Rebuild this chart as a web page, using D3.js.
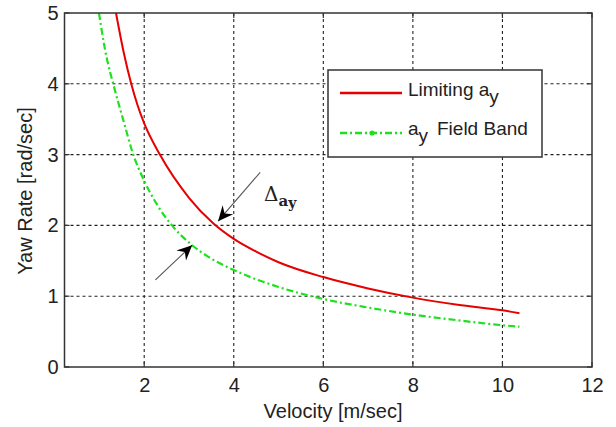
<!DOCTYPE html>
<html>
<head>
<meta charset="utf-8">
<script src="https://cdn.jsdelivr.net/npm/d3@7"></script>
<style>
  body { margin: 0; background: #fff; }
  svg { display: block; }
  text { font-family: "Liberation Sans", Arial, sans-serif; fill: #222; }
</style>
</head>
<body>
<svg id="chart" width="616" height="427"></svg>
<script>
// ticks
const xTicks = [2, 4, 6, 8, 10, 12];
const yTicks = [0, 1, 2, 3, 4, 5];

// Limiting a_y curve (velocity m/sec, yaw rate rad/sec)
const limitVel = [1.37, 1.55, 1.71, 1.85, 2.0, 2.35, 3.0, 3.54, 4.0, 4.5, 5.0, 6.0, 7.0, 8.0, 9.0, 10.0, 10.38];
const limitYaw = [5.0, 4.42, 4.0, 3.7, 3.44, 3.0, 2.39, 2.03, 1.81, 1.63, 1.48, 1.27, 1.11, 0.98, 0.88, 0.80, 0.76];

// a_y field band curve
const bandVel = [0.99, 1.12, 1.35, 1.55, 1.74, 2.0, 2.3, 2.62, 3.07, 3.5, 4.0, 5.0, 6.0, 7.0, 8.0, 9.0, 10.0, 10.38];
const bandYaw = [5.0, 4.5, 3.9, 3.45, 3.03, 2.63, 2.28, 2.0, 1.72, 1.53, 1.37, 1.13, 0.96, 0.84, 0.74, 0.66, 0.59, 0.57];

// annotation arrows [tail, tip] in data units
const arrowTails = [[4.59, 2.75], [2.25, 1.23]];
const arrowTips = [[3.65, 2.06], [3.07, 1.72]];

const svg = d3.select("#chart");
const m = { l: 64.5, r: 592, t: 13, b: 367 };

const x = d3.scaleLinear().domain([0.22, 12]).range([m.l, m.r]);
const y = d3.scaleLinear().domain([0, 5]).range([m.b, m.t]);

// grid
const grid = svg.append("g")
  .attr("stroke", "#222")
  .attr("stroke-width", 1.1)
  .attr("stroke-dasharray", "3,3");

grid.selectAll(".gx")
  .data(xTicks.filter((d) => d < 12))
  .join("line")
  .attr("x1", (d) => x(d)).attr("x2", (d) => x(d))
  .attr("y1", m.t).attr("y2", m.b);

grid.selectAll(".gy")
  .data(yTicks.filter((d) => d > 0 && d < 5))
  .join("line")
  .attr("x1", m.l).attr("x2", m.r)
  .attr("y1", (d) => y(d)).attr("y2", (d) => y(d));

// axes (labels only)
const xAxis = svg.append("g")
  .attr("transform", `translate(0,${m.b})`)
  .call(d3.axisBottom(x).tickValues(xTicks).tickFormat(d3.format("d")).tickSize(0).tickPadding(11));

const yAxis = svg.append("g")
  .attr("transform", `translate(${m.l},0)`)
  .call(d3.axisLeft(y).tickValues(yTicks).tickFormat(d3.format("d")).tickSize(0).tickPadding(6));

[xAxis, yAxis].forEach((a) => {
  a.select(".domain").remove();
  a.selectAll("text").style("font-size", "20px").attr("fill", "#222");
});

// inner ticks on all four sides
const ticks = svg.append("g").attr("stroke", "#333").attr("stroke-width", 1.2);
ticks.selectAll(".tb")
  .data(xTicks)
  .join("line")
  .attr("x1", (d) => x(d)).attr("x2", (d) => x(d))
  .attr("y1", m.b).attr("y2", m.b - 5);
ticks.selectAll(".tt")
  .data(xTicks)
  .join("line")
  .attr("x1", (d) => x(d)).attr("x2", (d) => x(d))
  .attr("y1", m.t).attr("y2", m.t + 5);
ticks.selectAll(".tl")
  .data(yTicks)
  .join("line")
  .attr("x1", m.l).attr("x2", m.l + 5)
  .attr("y1", (d) => y(d)).attr("y2", (d) => y(d));
ticks.selectAll(".tr")
  .data(yTicks)
  .join("line")
  .attr("x1", m.r).attr("x2", m.r - 5)
  .attr("y1", (d) => y(d)).attr("y2", (d) => y(d));

// curves
const line = d3.line()
  .x((d) => x(d[0]))
  .y((d) => y(d[1]))
  .curve(d3.curveMonotoneX);

svg.append("path")
  .datum(d3.zip(bandVel, bandYaw))
  .attr("d", line)
  .attr("fill", "none")
  .attr("stroke", "#1ee01e")
  .attr("stroke-width", 2.2)
  .attr("stroke-dasharray", "7,3,2,3");

svg.append("path")
  .datum(d3.zip(limitVel, limitYaw))
  .attr("d", line)
  .attr("fill", "none")
  .attr("stroke", "#e60000")
  .attr("stroke-width", 2);

// frame
svg.append("rect")
  .attr("x", m.l).attr("y", m.t)
  .attr("width", m.r - m.l).attr("height", m.b - m.t)
  .attr("fill", "none")
  .attr("stroke", "#333")
  .attr("stroke-width", 1.5);

// axis titles
svg.append("text")
  .attr("x", 333).attr("y", 418)
  .attr("text-anchor", "middle")
  .style("font-size", "20px")
  .text("Velocity [m/sec]");

svg.append("text")
  .attr("transform", "translate(32,191) rotate(-90)")
  .attr("text-anchor", "middle")
  .style("font-size", "20px")
  .text("Yaw Rate [rad/sec]");

// arrows
const arrowG = svg.append("g");
arrowTails.forEach((tail, i) => {
  const tip = arrowTips[i];
  const x0 = x(tail[0]), y0 = y(tail[1]);
  const x1 = x(tip[0]), y1 = y(tip[1]);
  const ang = Math.atan2(y1 - y0, x1 - x0) * 180 / Math.PI;
  arrowG.append("line")
    .attr("x1", x0).attr("y1", y0)
    .attr("x2", x1).attr("y2", y1)
    .attr("stroke", "#555")
    .attr("stroke-width", 1.1);
  arrowG.append("path")
    .attr("transform", `translate(${x1},${y1}) rotate(${ang})`)
    .attr("d", "M0,0 L-15,-7 L-10,0 L-15,7 Z")
    .attr("fill", "#000");
});

// delta label
const delta = svg.append("text")
  .attr("x", 264).attr("y", 201)
  .style("font-family", "'DejaVu Serif', 'Liberation Serif', serif")
  .style("font-size", "20px");
delta.append("tspan").text("\u0394");
delta.append("tspan").attr("dy", 5).style("font-size", "15px").style("font-weight", "bold").text("a");
delta.append("tspan").attr("dy", 2).style("font-size", "14px").style("font-weight", "bold").text("y");

// legend
const lg = svg.append("g").attr("transform", "translate(328,70)");
lg.append("rect")
  .attr("width", 214).attr("height", 87)
  .attr("fill", "#fff")
  .attr("stroke", "#333")
  .attr("stroke-width", 1.5);

lg.append("line")
  .attr("x1", 12).attr("x2", 74)
  .attr("y1", 23).attr("y2", 23)
  .attr("stroke", "#e60000").attr("stroke-width", 2.5);
lg.append("line")
  .attr("x1", 12).attr("x2", 74)
  .attr("y1", 63).attr("y2", 63)
  .attr("stroke", "#1ee01e").attr("stroke-width", 2.5)
  .attr("stroke-dasharray", "7,3,2,3");
lg.append("circle")
  .attr("cx", 44).attr("cy", 63).attr("r", 2.6)
  .attr("fill", "#1ee01e");

const t1 = lg.append("text").attr("x", 80).attr("y", 26).style("font-size", "19px");
t1.append("tspan").text("Limiting a");
t1.append("tspan").attr("dy", 7).text("y");

const t2 = lg.append("text").attr("x", 80).attr("y", 65).style("font-size", "19px");
t2.append("tspan").text("a");
t2.append("tspan").attr("dy", 7).text("y");
t2.append("tspan").attr("dy", -7).attr("x", 109).text("Field Band");
</script>
</body>
</html>
